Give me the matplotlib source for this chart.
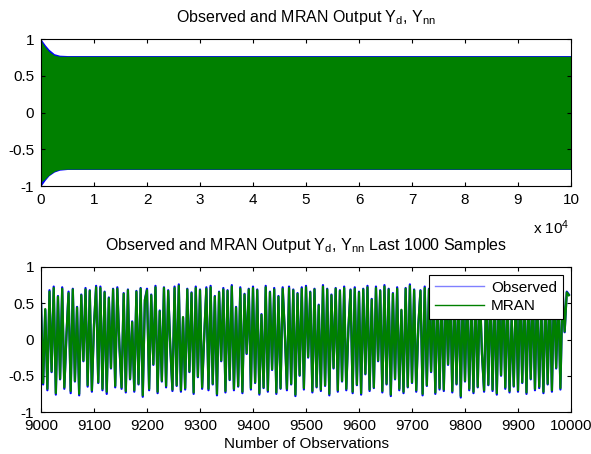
import numpy as np
import matplotlib
matplotlib.use('Agg')
from matplotlib import pyplot as plt

plt.rcParams['font.family'] = ['Liberation Sans', 'DejaVu Sans']
plt.rcParams['mathtext.fontset'] = 'custom'
plt.rcParams['mathtext.rm'] = 'Liberation Sans'
plt.rcParams['mathtext.it'] = 'Liberation Sans'

# full run (100000 samples) - envelope of the dense signal
env_x = [0, 300, 800, 1500, 2500, 3500, 5000, 100000]
obs_hi = [1.0, 0.97, 0.92, 0.86, 0.80, 0.78, 0.775, 0.775]
obs_lo = [-1.0, -0.97, -0.92, -0.86, -0.81, -0.785, -0.775, -0.775]
mran_hi = [0.98, 0.94, 0.89, 0.83, 0.78, 0.765, 0.765, 0.765]
mran_lo = [-0.95, -0.93, -0.90, -0.85, -0.80, -0.775, -0.77, -0.77]

# last 1000 samples, read every 4th sample
last_start = 9000
last_step = 4
observed = [
    0.52, -0.62, 0.41, -0.70, 0.68, -0.45, 0.73, -0.76, 0.60, -0.55,
    0.72, -0.68, 0.05, 0.66, -0.74, 0.70, -0.58, 0.45, -0.77, 0.62,
    -0.30, 0.71, -0.65, 0.68, -0.72, 0.20, 0.74, -0.60, 0.73, -0.70,
    0.66, -0.75, 0.58, -0.40, 0.70, -0.66, 0.72, -0.10, -0.68, 0.64,
    -0.73, 0.69, -0.55, 0.25, -0.72, 0.67, -0.62, 0.71, -0.79, 0.55,
    0.70, -0.70, 0.62, -0.35, 0.74, -0.74, 0.40, -0.58, 0.72, -0.66,
    0.68, -0.12, -0.71, 0.73, -0.64, 0.76, -0.72, 0.30, -0.69, 0.70,
    -0.45, 0.65, -0.75, 0.73, -0.52, 0.69, -0.68, 0.05, 0.72, -0.70,
    0.74, -0.62, 0.60, -0.77, 0.66, -0.30, 0.71, -0.73, 0.68, -0.56,
    0.75, -0.70, 0.45, -0.65, 0.72, -0.74, 0.63, -0.20, 0.70, -0.69,
    0.73, -0.60, 0.69, -0.76, 0.35, -0.67, 0.74, -0.72, 0.66, -0.42,
    0.71, -0.75, 0.60, -0.68, 0.72, 0.10, -0.70, 0.73, -0.62, 0.69,
    -0.78, 0.64, -0.50, 0.72, -0.69, 0.74, -0.25, 0.66, -0.73, 0.70,
    -0.66, 0.48, -0.71, 0.75, -0.64, 0.70, -0.77, 0.62, -0.40, 0.71,
    -0.72, 0.68, -0.58, 0.73, -0.70, 0.15, 0.69, -0.74, 0.72, -0.63,
    0.66, -0.76, 0.70, -0.48, 0.74, -0.71, 0.56, -0.67, 0.73, -0.30,
    0.68, -0.73, 0.75, -0.62, 0.70, -0.78, 0.64, -0.55, 0.72, -0.70,
    0.40, -0.74, 0.71, -0.66, 0.76, -0.60, 0.69, -0.72, 0.20, 0.68,
    -0.77, 0.73, -0.64, 0.70, -0.45, 0.66, -0.75, 0.72, -0.69, 0.60,
    -0.71, 0.74, -0.35, 0.70, -0.73, 0.65, -0.62, 0.72, -0.80, 0.68,
    -0.58, 0.71, -0.70, 0.50, -0.74, 0.73, -0.66, 0.69, -0.20, -0.72,
    0.70, -0.63, 0.74, -0.71, 0.62, -0.76, 0.70, -0.50, 0.72, -0.68,
    0.67, -0.73, 0.30, -0.65, 0.71, -0.72, 0.74, -0.60, 0.66, -0.75,
    0.72, -0.55, 0.69, -0.70, 0.73, -0.67, 0.45, -0.74, 0.70, -0.62,
    0.68, -0.72, 0.74, -0.40, 0.65, -0.69, 0.71, 0.10, 0.66, 0.62,
]
mran = [
    0.50, -0.60, 0.42, -0.68, 0.66, -0.44, 0.71, -0.74, 0.59, -0.54,
    0.70, -0.66, 0.06, 0.64, -0.71, 0.69, -0.57, 0.44, -0.75, 0.61,
    -0.29, 0.69, -0.63, 0.67, -0.70, 0.21, 0.72, -0.59, 0.71, -0.68,
    0.65, -0.72, 0.57, -0.39, 0.69, -0.64, 0.70, -0.09, -0.66, 0.63,
    -0.71, 0.68, -0.54, 0.24, -0.70, 0.66, -0.61, 0.70, -0.77, 0.54,
    0.68, -0.68, 0.61, -0.34, 0.72, -0.72, 0.39, -0.57, 0.71, -0.64,
    0.67, -0.11, -0.69, 0.71, -0.63, 0.74, -0.70, 0.31, -0.67, 0.69,
    -0.44, 0.64, -0.73, 0.71, -0.51, 0.68, -0.66, 0.06, 0.70, -0.68,
    0.72, -0.61, 0.59, -0.75, 0.65, -0.29, 0.69, -0.71, 0.67, -0.55,
    0.73, -0.68, 0.44, -0.64, 0.70, -0.72, 0.62, -0.19, 0.69, -0.67,
    0.71, -0.59, 0.68, -0.74, 0.34, -0.66, 0.72, -0.70, 0.65, -0.41,
    0.69, -0.73, 0.59, -0.67, 0.70, 0.11, -0.68, 0.71, -0.61, 0.68,
    -0.76, 0.63, -0.49, 0.70, -0.67, 0.72, -0.24, 0.65, -0.71, 0.69,
    -0.65, 0.47, -0.69, 0.73, -0.63, 0.69, -0.75, 0.61, -0.39, 0.70,
    -0.70, 0.67, -0.57, 0.71, -0.68, 0.16, 0.68, -0.72, 0.70, -0.62,
    0.65, -0.74, 0.69, -0.47, 0.72, -0.69, 0.55, -0.66, 0.71, -0.29,
    0.67, -0.71, 0.73, -0.61, 0.69, -0.76, 0.63, -0.54, 0.70, -0.68,
    0.41, -0.72, 0.70, -0.65, 0.74, -0.59, 0.68, -0.70, 0.21, 0.67,
    -0.75, 0.71, -0.63, 0.69, -0.44, 0.65, -0.73, 0.70, -0.67, 0.59,
    -0.69, 0.72, -0.34, 0.69, -0.71, 0.64, -0.61, 0.70, -0.78, 0.67,
    -0.57, 0.70, -0.68, 0.49, -0.72, 0.71, -0.65, 0.68, -0.19, -0.70,
    0.69, -0.62, 0.72, -0.69, 0.61, -0.74, 0.69, -0.49, 0.70, -0.66,
    0.66, -0.71, 0.31, -0.64, 0.70, -0.70, 0.72, -0.59, 0.65, -0.73,
    0.70, -0.54, 0.68, -0.68, 0.71, -0.65, 0.44, -0.72, 0.69, -0.61,
    0.67, -0.70, 0.72, -0.39, 0.64, -0.67, 0.70, 0.11, 0.65, 0.61,
]
last_x = np.arange(len(observed)) * last_step + last_start

blue = '#0000ff'
green = '#008000'
fs = 11

fig = plt.figure(figsize=(5.91, 4.54), dpi=100)

# top subplot
ax1 = fig.add_axes([41/591, 1 - 186/454, 530/591, 147/454])
ax1.fill_between(env_x, obs_lo, obs_hi, color=blue, lw=0)
ax1.fill_between(env_x, mran_lo, mran_hi, color=green, lw=0)
ax1.set_xlim(0, 100000)
ax1.set_ylim(-1, 1)
ax1.set_xticks(np.arange(0, 100001, 10000))
ax1.set_xticklabels([str(i) for i in range(11)])
ax1.set_yticks([-1, -0.5, 0, 0.5, 1])
ax1.set_yticklabels(['-1', '-0.5', '0', '0.5', '1'])
ax1.set_title(r'Observed and MRAN Output Y$_\mathrm{d}$, Y$_\mathrm{nn}$', fontsize=11.5, pad=12)
fig.text(533/591, 1 - 228/454, r'x 10$^4$', fontsize=fs, va='center')

# bottom subplot
ax2 = fig.add_axes([41/591, 1 - 412/454, 530/591, 145/454])
ax2.plot(last_x, observed, color=blue, lw=1.6, label='Observed')
ax2.plot(last_x, mran, color=green, lw=1.6, label='MRAN')
ax2.set_xlim(9000, 10000)
ax2.set_ylim(-1, 1)
ax2.set_xticks(np.arange(9000, 10001, 100))
ax2.set_yticks([-1, -0.5, 0, 0.5, 1])
ax2.set_yticklabels(['-1', '-0.5', '0', '0.5', '1'])
ax2.set_title(r'Observed and MRAN Output Y$_\mathrm{d}$, Y$_\mathrm{nn}$ Last 1000 Samples',
              fontsize=11.5, pad=12)
ax2.set_xlabel('Number of Observations', fontsize=fs, labelpad=3)
leg = ax2.legend(loc='upper right', fontsize=fs, frameon=True, fancybox=False,
                 edgecolor='black', framealpha=1, borderaxespad=0.5,
                 handlelength=3.2, handletextpad=0.5, borderpad=0.4, labelspacing=0.3)
leg.legend_handles[0].set_color('#8080ff')
leg.legend_handles[0].set_linewidth(1)
leg.legend_handles[1].set_linewidth(1)
leg.get_frame().set_linewidth(0.8)

for ax in (ax1, ax2):
    ax.tick_params(direction='in', top=True, right=True, labelsize=fs, length=3)
    ax.tick_params(axis='x', pad=5)
    ax.tick_params(axis='y', pad=5)
    for s in ax.spines.values():
        s.set_linewidth(0.8)

fig.savefig('out.png', dpi=100)
